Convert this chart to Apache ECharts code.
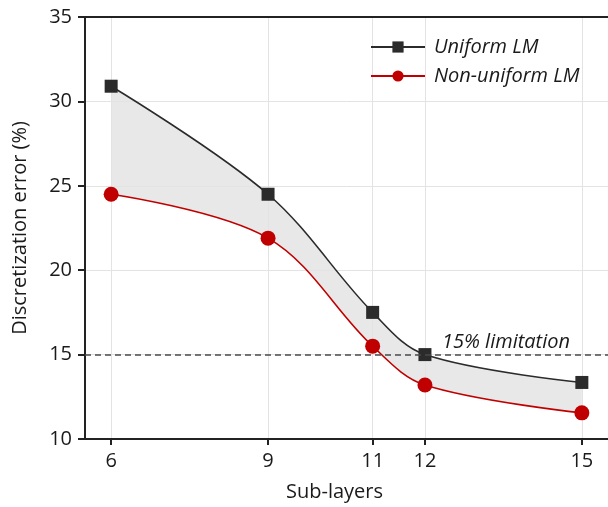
<!DOCTYPE html>
<html>
<head>
<meta charset="utf-8">
<script src="https://cdn.jsdelivr.net/npm/echarts@6/dist/echarts.min.js"></script>
<style>html,body{margin:0;padding:0;background:#fff}#c{width:608px;height:507px}</style>
</head>
<body>
<div id="c"></div>
<script>
const subLayers = [6, 9, 11, 12, 15];
const uniformLM = [30.9, 24.5, 17.5, 15.0, 13.35];
const nonUniformLM = [24.5, 21.9, 15.5, 13.2, 11.55];
const xTicks = [6, 9, 11, 12, 15];
const limitValue = 15;

const FONT = '"Open Sans", sans-serif';
const SMOOTH = 0.35;
const pairs = (ys) => subLayers.map((x, i) => [x, ys[i]]);

const chart = echarts.init(document.getElementById('c'), null, {renderer: 'canvas'});
chart.setOption({
  animation: false,
  backgroundColor: '#fff',
  textStyle: {fontFamily: FONT},
  grid: {left: 85, right: 0, top: 17, bottom: 67, containLabel: false},
  legend: {
    orient: 'vertical', left: 370, top: 37, padding: 0, itemWidth: 54, itemHeight: 14, itemGap: 9,
    data: ['Uniform LM', 'Non-uniform LM'],
    textStyle: {fontFamily: FONT, fontSize: 20, fontStyle: 'italic', color: '#1a1a1a', padding: [0, 0, 0, 4]}
  },
  xAxis: [{
    type: 'value', min: 5.5, max: 15.5, z: 2.5,
    name: 'Sub-layers', nameLocation: 'middle', nameGap: 43,
    nameTextStyle: {fontFamily: FONT, fontSize: 20, color: '#1a1a1a', padding: [0, 24, 0, 0]},
    axisLine: {show: true, onZero: false, lineStyle: {color: '#222', width: 2}},
    axisTick: {show: true, length: 6, customValues: xTicks, lineStyle: {color: '#222', width: 2}},
    axisLabel: {customValues: xTicks, fontFamily: FONT, fontSize: 20, color: '#1a1a1a', margin: 12},
    splitLine: {show: true, lineStyle: {color: '#e3e3e3', width: 1}}
  }, {
    type: 'value', min: 5.5, max: 15.5, position: 'top', z: 2.5,
    axisLine: {show: true, onZero: false, lineStyle: {color: '#222', width: 2}},
    axisTick: {show: false}, axisLabel: {show: false}, splitLine: {show: false}
  }],
  yAxis: {
    type: 'value', min: 10, max: 35, interval: 5, z: 2.5,
    name: 'Discretization error (%)', nameLocation: 'middle', nameGap: 55,
    nameTextStyle: {fontFamily: FONT, fontSize: 20, color: '#1a1a1a'},
    axisLine: {show: true, lineStyle: {color: '#222', width: 2}},
    axisTick: {show: true, length: 7, lineStyle: {color: '#222', width: 2}},
    axisLabel: {fontFamily: FONT, fontSize: 20, color: '#1a1a1a', margin: 13},
    splitLine: {show: true, lineStyle: {color: '#e3e3e3', width: 1}}
  },
  series: [{
    name: 'bandUpper', type: 'line', data: pairs(uniformLM), smooth: SMOOTH,
    symbol: 'none', lineStyle: {opacity: 0}, areaStyle: {color: '#e8e8e8', opacity: 1}, silent: true, z: 1
  }, {
    name: 'bandLower', type: 'line', data: pairs(nonUniformLM), smooth: SMOOTH,
    symbol: 'none', lineStyle: {opacity: 0}, areaStyle: {color: '#ffffff', opacity: 1}, silent: true, z: 2
  }, {
    name: 'Uniform LM', type: 'line', data: pairs(uniformLM), smooth: SMOOTH,
    symbol: 'rect', symbolSize: 13, color: '#2b2b2b',
    itemStyle: {color: '#2b2b2b'}, lineStyle: {color: '#2b2b2b', width: 1.6}, z: 3
  }, {
    name: 'Non-uniform LM', type: 'line', data: pairs(nonUniformLM), smooth: SMOOTH,
    symbol: 'circle', symbolSize: 15, color: '#c00000',
    itemStyle: {color: '#c00000'}, lineStyle: {color: '#c00000', width: 1.6}, z: 3,
    markLine: {
      silent: true, symbol: 'none',
      lineStyle: {color: '#4a4a4a', type: [6, 4], width: 1.5},
      label: {
        show: true, position: 'insideEndTop', formatter: '15% limitation',
        fontFamily: FONT, fontSize: 20, fontStyle: 'italic', color: '#1a1a1a',
        padding: [0, 36, 0, 0], distance: 2
      },
      data: [{yAxis: limitValue}]
    }
  }]
});
</script>
</body>
</html>
